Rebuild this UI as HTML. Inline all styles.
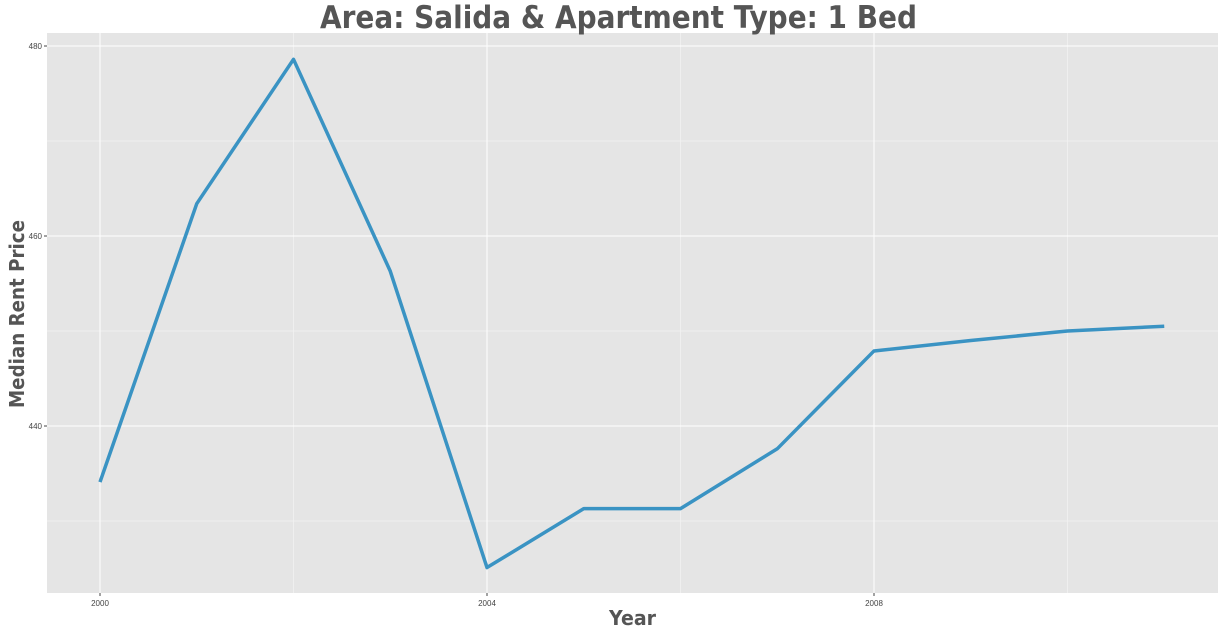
<!DOCTYPE html>
<html><head><meta charset="utf-8"><style>
body{margin:0;background:#fff;width:1224px;height:633px;overflow:hidden;font-family:"Liberation Sans",sans-serif}
</style></head><body>
<svg id="chart" width="1224" height="633" xmlns="http://www.w3.org/2000/svg"></svg>
<script>
const years=[2000,2001,2002,2003,2004,2005,2006,2007,2008,2009,2010,2011];
const rents=[434.1,463.4,478.6,456.3,425.1,431.3,431.3,437.6,447.9,449.0,450.0,450.5];
const xTicks=[2000,2004,2008];
const xMinor=[2002,2006,2010];
const yTicks=[440,460,480];
const yMinor=[430,450,470];
const svg=document.getElementById('chart');
const NS='http://www.w3.org/2000/svg';
const L=47,R=1218,T=33,B=593;
const x=v=>100+(v-2000)*96.75;
const y=v=>426-(v-440)*9.5;
function mk(t,a){const e=document.createElementNS(NS,t);for(const k in a)e.setAttribute(k,a[k]);svg.appendChild(e);return e;}
const bg=mk('rect',{x:L,y:T,width:R-L,height:B-T,fill:'#e5e5e5'});


yMinor.forEach(v=>{const g=mk('line',{x1:L,x2:R,y1:y(v),y2:y(v),stroke:'#f2f2f2','stroke-width':0.8});

});
xMinor.forEach(v=>{const g=mk('line',{x1:x(v),x2:x(v),y1:T,y2:B,stroke:'#f2f2f2','stroke-width':0.8});

});
yTicks.forEach(v=>{const g=mk('line',{x1:L,x2:R,y1:y(v),y2:y(v),stroke:'#fff','stroke-width':1});


const tk=mk('line',{x1:L-3,x2:L,y1:y(v),y2:y(v),stroke:'#444','stroke-width':1});


const t=mk('text',{x:L-5,y:y(v)+3,'text-anchor':'end','font-size':8,fill:'#444'});t.textContent=v;

});
xTicks.forEach(v=>{const g=mk('line',{x1:x(v),x2:x(v),y1:T,y2:B,stroke:'#fff','stroke-width':1});


const tk=mk('line',{x1:x(v),x2:x(v),y1:B,y2:B+3,stroke:'#444','stroke-width':1});


const t=mk('text',{x:x(v),y:B+13,'text-anchor':'middle','font-size':8,fill:'#444'});t.textContent=v;

});
const line=mk('polyline',{points:years.map((yr,i)=>x(yr)+','+y(rents[i])).join(' '),fill:'none',stroke:'#3a93c3','stroke-width':3.5,'stroke-linejoin':'round'});


const title=mk('text',{x:320,y:28,'font-size':31,'font-weight':'bold',fill:'#555','font-family':'DejaVu Sans, sans-serif',textLength:597,lengthAdjust:'spacingAndGlyphs'});
title.textContent='Area: Salida & Apartment Type: 1 Bed';


const xt=mk('text',{x:609,y:625,'font-size':20,'font-weight':'bold',fill:'#555','font-family':'DejaVu Sans, sans-serif',textLength:47,lengthAdjust:'spacingAndGlyphs'});
xt.textContent='Year';


const yt=mk('text',{x:0,y:0,transform:'translate(24,408) rotate(-90)','font-size':20,'font-weight':'bold',fill:'#555','font-family':'DejaVu Sans, sans-serif',textLength:188,lengthAdjust:'spacingAndGlyphs'});
yt.textContent='Median Rent Price';


</script>
</body></html>
